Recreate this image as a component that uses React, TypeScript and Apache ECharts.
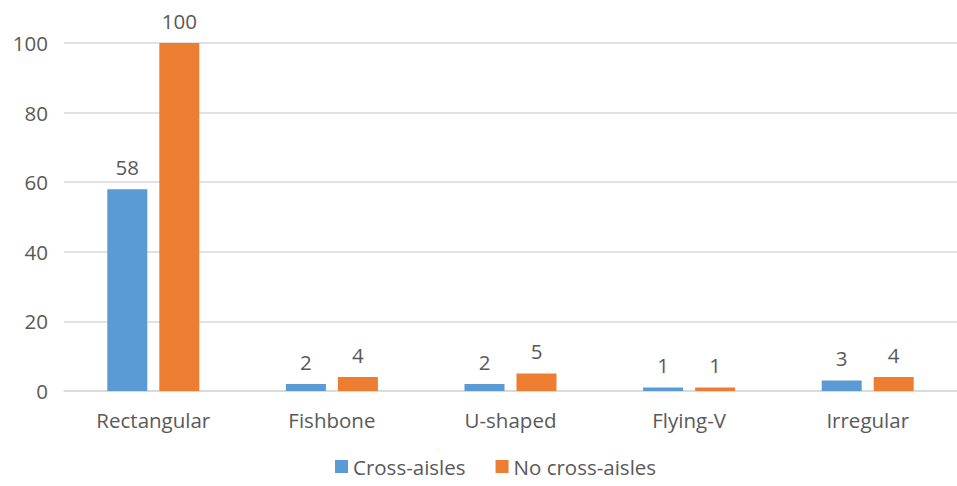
import React, { useEffect, useRef } from "react";
import * as echarts from "echarts";

const categories = ["Rectangular", "Fishbone", "U-shaped", "Flying-V", "Irregular"];
const crossAisles = [58, 2, 2, 1, 3];
const noCrossAisles = [100, 4, 5, 1, 4];
const yTicks = { min: 0, max: 100, interval: 20 };

const FONT = "'Open Sans', 'Liberation Sans', sans-serif";
const TEXT = "#595959";
const FS = 20.5;

export default function App() {
  const ref = useRef<HTMLDivElement>(null);
  useEffect(() => {
    if (!ref.current) return;
    const chart = echarts.init(ref.current, undefined, { renderer: "svg" });
    const label = {
      show: true,
      position: "top" as const,
      distance: 12,
      color: TEXT,
      fontSize: FS,
      fontFamily: FONT,
    };
    chart.setOption({
      animation: false,
      textStyle: { fontFamily: FONT },
      grid: { left: 64, top: 43, width: 899, bottom: 95, containLabel: false },
      legend: {
        bottom: 4,
        left: 330,
        itemWidth: 13,
        itemHeight: 13,
        itemGap: 30,
        icon: "rect",
        textStyle: { color: TEXT, fontSize: FS, fontFamily: FONT, padding: [0, 0, 0, 0] },
        data: ["Cross-aisles", "No cross-aisles"],
      },
      xAxis: {
        type: "category",
        data: categories,
        axisLine: { lineStyle: { color: "#D9D9D9", width: 1.5 } },
        axisTick: { show: false },
        axisLabel: { color: TEXT, fontSize: FS, fontFamily: FONT, margin: 18 },
      },
      yAxis: {
        type: "value",
        min: yTicks.min,
        max: yTicks.max,
        interval: yTicks.interval,
        axisLine: { show: false },
        axisTick: { show: false },
        axisLabel: { color: TEXT, fontSize: FS, fontFamily: FONT, margin: 16 },
        splitLine: { lineStyle: { color: "#D9D9D9", width: 1.5 } },
      },
      series: [
        {
          name: "Cross-aisles",
          type: "bar",
          data: crossAisles,
          barWidth: 40,
          barGap: "30%",
          itemStyle: { color: "#5B9BD5" },
          label,
        },
        {
          name: "No cross-aisles",
          type: "bar",
          data: noCrossAisles,
          barWidth: 40,
          itemStyle: { color: "#ED7D31" },
          label,
        },
      ],
    });
    return () => chart.dispose();
  }, []);
  return <div ref={ref} style={{ width: 957, height: 486, position: "absolute", left: 0, top: 0 }} />;
}
